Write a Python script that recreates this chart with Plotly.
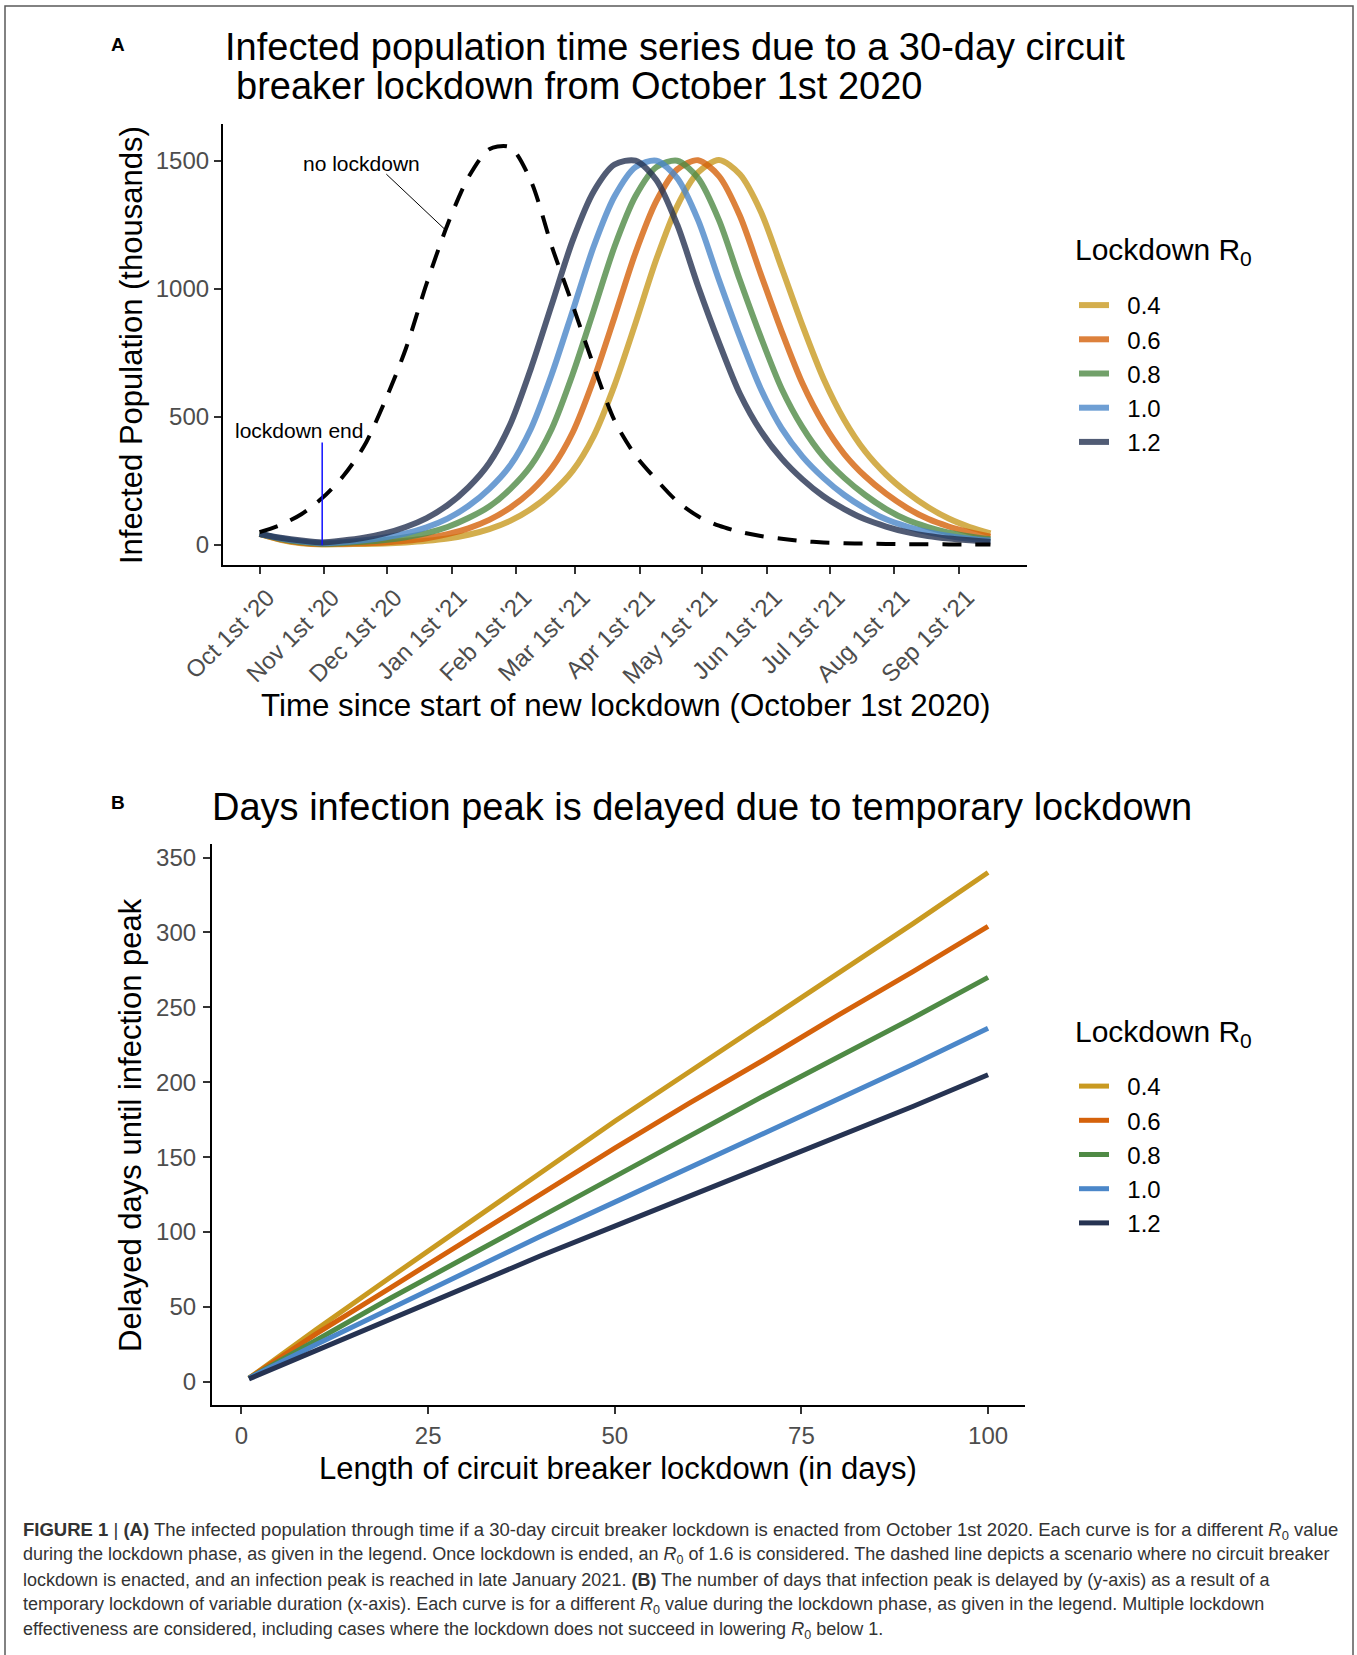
import plotly.graph_objects as go

W, H = 1357, 1655
FONT = "Liberation Sans, Arial, sans-serif"

# ---------------- Panel A data (thousands infected) ----------------
days = list(range(0, 351, 10))
no_lockdown = [50, 78, 120, 183, 268, 385, 560, 765, 1020, 1250, 1435, 1545, 1553, 1420, 1164, 935,
               700, 485, 350, 255, 170, 112, 75, 51, 35, 24, 15, 10, 7, 5, 4, 3, 3, 2, 2, 2]
inf_r04 = [43, 20, 7, 2, 2.8, 4, 6, 10, 16, 25, 40, 62, 94, 140, 204, 290,
           425, 624, 865, 1115, 1323, 1454, 1503, 1447, 1302, 1082, 856, 650, 488, 365, 275, 205, 148, 103, 70, 45]
inf_r06 = [43, 22, 9, 3.5, 5, 7, 10, 16, 26, 42, 65, 98, 145, 210, 301, 440,
           646, 890, 1140, 1342, 1466, 1502, 1440, 1285, 1058, 834, 630, 474, 355, 268, 200, 145, 102, 72, 50, 32]
inf_r08 = [43, 24, 11, 5, 7.5, 12, 19, 30, 46, 70, 105, 150, 218, 310, 455, 668,
           915, 1165, 1361, 1475, 1500, 1432, 1268, 1034, 812, 610, 459, 345, 262, 195, 140, 98, 70, 48, 33, 22]
inf_r10 = [43, 26, 14, 7, 11, 18, 29, 45, 69, 103, 152, 219, 310, 455, 668, 915,
           1165, 1361, 1475, 1500, 1432, 1268, 1034, 812, 610, 455, 345, 262, 195, 142, 100, 72, 50, 35, 24, 17]
inf_r12 = [43, 28, 17, 10, 17, 28, 45, 70, 105, 155, 225, 320, 470, 690, 940, 1190,
           1380, 1485, 1500, 1425, 1250, 1010, 790, 590, 445, 338, 256, 190, 140, 100, 72, 50, 35, 25, 18, 12]

r0_labels = ["0.4", "0.6", "0.8", "1.0", "1.2"]
colors = ["#C99A21", "#D5620B", "#4F8A45", "#4B87C9", "#263352"]

date_tickvals = [0, 31, 61, 92, 123, 151, 182, 212, 243, 273, 304, 335]
date_ticktext = ["Oct 1st '20", "Nov 1st '20", "Dec 1st '20", "Jan 1st '21", "Feb 1st '21",
                 "Mar 1st '21", "Apr 1st '21", "May 1st '21", "Jun 1st '21", "Jul 1st '21",
                 "Aug 1st '21", "Sep 1st '21"]
a_yticks = [0, 500, 1000, 1500]

lockdown_end_day = 30
lockdown_end_top = 400

# ---------------- Panel B data (delay in days) ----------------
lockdown_len = [1, 10, 20, 30, 40, 50, 60, 70, 80, 90, 100]
delay_r04 = [2.5, 35, 70, 105, 140, 174, 207, 240, 273, 306, 340]
delay_r06 = [2.5, 32, 63, 94, 125, 156, 186, 215, 245, 274, 304]
delay_r08 = [2.5, 28, 56, 83, 110, 137, 164, 191, 217, 243, 270]
delay_r10 = [2.5, 25, 49, 73, 97, 120, 143, 166, 189, 212, 236]
delay_r12 = [2.0, 21, 42, 63, 84, 104, 124, 144, 164, 184, 205]
b_xticks = [0, 25, 50, 75, 100]
b_yticks = [0, 50, 100, 150, 200, 250, 300, 350]

inf_series = [inf_r04, inf_r06, inf_r08, inf_r10, inf_r12]
delay_series = [delay_r04, delay_r06, delay_r08, delay_r10, delay_r12]

NBSP = "\u00a0"


def px(x):
    return x / W


def py(y):
    return 1 - y / H


fig = go.Figure()

for lab, col, ys in zip(r0_labels, colors, inf_series):
    fig.add_trace(go.Scatter(x=days, y=ys, mode="lines", name=NBSP * 2 + lab, legend="legend",
                             opacity=0.8,
                             line=dict(color=col, width=6, shape="spline", smoothing=0.8),
                             xaxis="x", yaxis="y"))

fig.add_trace(go.Scatter(x=days, y=no_lockdown, mode="lines", showlegend=False,
                         line=dict(color="black", width=4, dash="19px,14px", shape="spline", smoothing=0.8),
                         xaxis="x", yaxis="y"))
fig.add_trace(go.Scatter(x=[lockdown_end_day, lockdown_end_day], y=[0, lockdown_end_top], mode="lines",
                         showlegend=False, line=dict(color="#1010FF", width=1.5), xaxis="x", yaxis="y"))

for lab, col, ys in zip(r0_labels, colors, delay_series):
    fig.add_trace(go.Scatter(x=lockdown_len, y=ys, mode="lines", name=NBSP * 2 + lab, legend="legend2",
                             line=dict(color=col, width=5), xaxis="x2", yaxis="y2"))

tickfont = dict(family=FONT, size=24, color="#4D4D4D")
axis_common = dict(showgrid=False, zeroline=False, showline=True, linecolor="black", linewidth=2.2,
                   ticks="outside", ticklen=7, tickwidth=2.2, tickcolor="#333333", tickfont=tickfont,
                   automargin=False)

legend_common = dict(xanchor="left", yanchor="top", bgcolor="rgba(0,0,0,0)",
                     font=dict(family=FONT, size=24, color="black"), tracegroupgap=0,
                     itemwidth=30, traceorder="normal")

fig.update_layout(
    width=W, height=H, autosize=False,
    margin=dict(l=0, r=0, t=0, b=0, pad=0),
    paper_bgcolor="white", plot_bgcolor="white",
    font=dict(family=FONT, color="black"),
    xaxis=dict(domain=[px(223), px(1027)], range=[-17.5, 367.5], anchor="y",
               tickvals=date_tickvals, ticktext=date_ticktext, tickangle=-45,
               ticklabelstandoff=0, ticklabelshift=8, **axis_common),
    yaxis=dict(domain=[py(565), py(124)], range=[-78.25, 1643.25], anchor="x",
               tickvals=a_yticks, ticklabelstandoff=0, **axis_common),
    xaxis2=dict(domain=[px(212), px(1025)], range=[-3.95, 104.95], anchor="y2",
                tickvals=b_xticks, ticklabelstandoff=1, **axis_common),
    yaxis2=dict(domain=[py(1405), py(844)], range=[-15.42, 359.02], anchor="x2",
                tickvals=b_yticks, ticklabelstandoff=2, **axis_common),
    legend=dict(x=px(1074), y=py(283), **legend_common),
    legend2=dict(x=px(1074), y=py(1064), **legend_common),
)

ann = []


def paper_text(text, x, y, size, xanchor="left", angle=0, color="black"):
    ann.append(dict(text=text, x=px(x), y=py(y), xref="paper", yref="paper", showarrow=False,
                    xanchor=xanchor, yanchor="middle", textangle=angle,
                    font=dict(family=FONT, size=size, color=color)))


# Panel A texts
paper_text("<b>A</b>", 109, 45, 19)
paper_text("Infected population time series due to a 30-day circuit", 223, 47, 38)
paper_text("breaker lockdown from October 1st 2020", 234, 86, 38)
paper_text("Time since start of new lockdown (October 1st 2020)", 625, 705, 31.3, xanchor="center")
paper_text("Infected Population (thousands)", 131, 345, 31, xanchor="center", angle=-90)
paper_text("Lockdown R<sub>0</sub>", 1073, 252, 30)

# Panel B texts
paper_text("<b>B</b>", 109, 802, 19)
paper_text("Days infection peak is delayed due to temporary lockdown", 210, 807, 38)
paper_text("Length of circuit breaker lockdown (in days)", 618, 1468, 31, xanchor="center")
paper_text("Delayed days until infection peak", 130, 1125, 31, xanchor="center", angle=-90)
paper_text("Lockdown R<sub>0</sub>", 1073, 1033, 30)

# data annotations in panel A
ann.append(dict(text="no lockdown", x=49, y=1490, xref="x", yref="y", showarrow=False,
                font=dict(family=FONT, size=21, color="black")))
ann.append(dict(text="", x=89, y=1230, ax=60, ay=1453, xref="x", yref="y", axref="x", ayref="y",
                showarrow=True, arrowhead=0, arrowwidth=1, arrowcolor="black"))
ann.append(dict(text="lockdown end", x=19, y=445, xref="x", yref="y", showarrow=False,
                font=dict(family=FONT, size=21, color="black")))

# caption
cap = [
    "<b>FIGURE 1</b> | <b>(A)</b> The infected population through time if a 30-day circuit breaker lockdown is enacted from October 1st 2020. Each curve is for a different <i>R</i><sub>0</sub> value",
    "during the lockdown phase, as given in the legend. Once lockdown is ended, an <i>R</i><sub>0</sub> of 1.6 is considered. The dashed line depicts a scenario where no circuit breaker",
    "lockdown is enacted, and an infection peak is reached in late January 2021. <b>(B)</b> The number of days that infection peak is delayed by (y-axis) as a result of a",
    "temporary lockdown of variable duration (x-axis). Each curve is for a different <i>R</i><sub>0</sub> value during the lockdown phase, as given in the legend. Multiple lockdown",
    "effectiveness are considered, including cases where the lockdown does not succeed in lowering <i>R</i><sub>0</sub> below 1.",
]
cap_y = [1531, 1555, 1580, 1605, 1630]
cap_size = [18.5, 18, 18, 18, 18]
for t, y, s in zip(cap, cap_y, cap_size):
    paper_text(t, 21, y, s, color="#333333")

fig.update_layout(annotations=ann)

# outer figure frame
fig.add_shape(type="rect", xref="paper", yref="paper", x0=px(5), x1=px(1353), y0=-0.02, y1=py(6),
              line=dict(color="#5a5a5a", width=1.5), fillcolor="rgba(0,0,0,0)", layer="below")

fig.write_html("out.html", config={"displayModeBar": False},
               post_script="document.body.style.margin='0px';document.body.style.overflow='hidden';")
